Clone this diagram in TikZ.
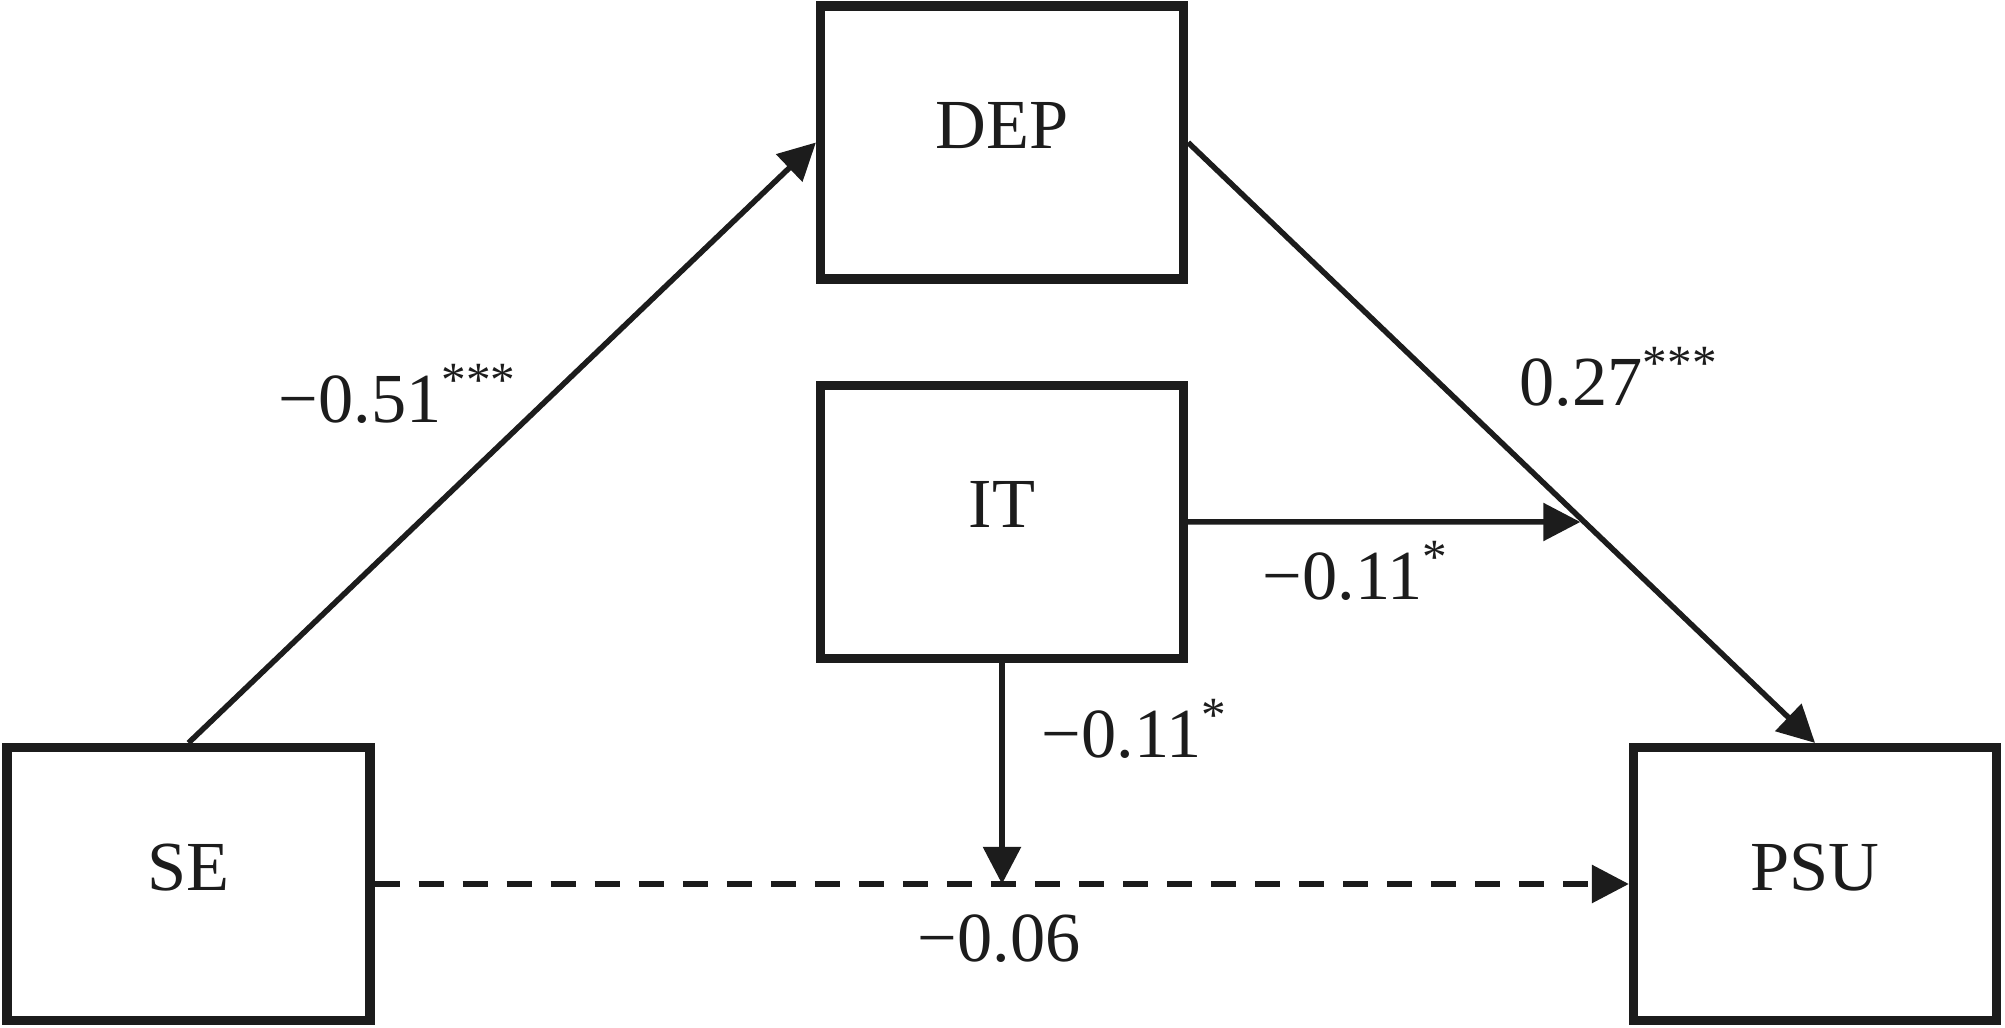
\documentclass[tikz,border=0pt]{standalone}
\usepackage{fontspec}
\setmainfont{Liberation Serif}
\usetikzlibrary{arrows.meta,intersections}
\definecolor{ink}{RGB}{28,28,28}
\begin{document}
\begin{tikzpicture}[x=0.01cm,y=-0.01cm,
  box/.style={draw=ink, line width=0.095cm, minimum width=3.625cm, minimum height=2.725cm,
    inner sep=0pt, text height=0.12cm, text depth=0pt, font=\fontsize{20}{24}\selectfont, text=ink},
  lbl/.style={anchor=base west, inner sep=0pt, font=\fontsize{20}{24}\selectfont, text=ink},
  conn/.style={draw=ink, line width=0.055cm, -{Triangle[length=0.37cm,width=0.37cm]}}]
\useasboundingbox[fill=white] (0,0) rectangle (2005,1028);
\node[box] (SE) at (188.5,884) {SE};
\node[box] (PSU) at (1815,884) {PSU};
\node[box] (DEP) at (1002,142.5) {DEP};
\node[box] (IT) at (1002,522) {IT};
\draw[conn, name path=dp] (DEP.east) -- (PSU.north);
\draw[conn] (SE.north) -- (DEP.west);
\path[name path=ih] (IT.east) -- (IT.east -| PSU.east);
\path[name intersections={of=dp and ih, by=h}];
\draw[conn, shorten >=0.04cm] (IT.east) -- (h);
\coordinate (m) at (IT.south |- SE.east);
\draw[conn] (IT.south) -- (m);
\draw[conn, line width=0.06cm, dash pattern=on 0.25cm off 0.19cm] (SE.east) -- (PSU.west);
\node[lbl] (l1) at (278,423) {−0.51\textsuperscript{***}};
\node[lbl] (l2) at (1519,406) {0.27\textsuperscript{***}};
\node[lbl] (l3) at (1262,600) {−0.11\textsuperscript{*}};
\node[lbl] (l4) at (1041,758) {−0.11\textsuperscript{*}};
\node[lbl] (l5) at (917,962) {−0.06};
\end{tikzpicture}
\end{document}
